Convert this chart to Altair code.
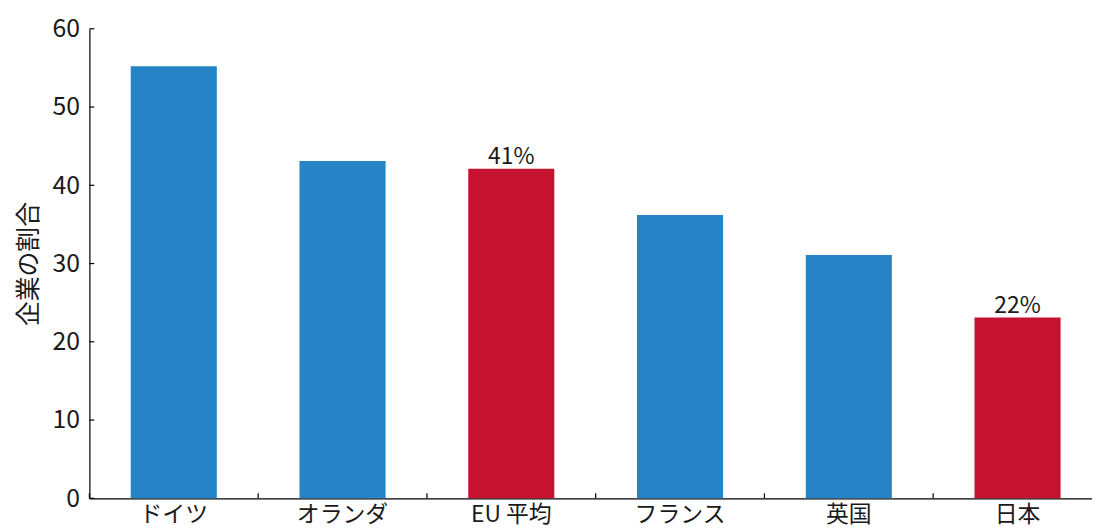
import altair as alt
import pandas as pd

categories = ["ドイツ", "オランダ", "EU 平均", "フランス", "英国", "日本"]
values = [55.2, 43.1, 42.1, 36.2, 31.1, 23.1]
groups = ["other", "other", "highlight", "other", "other", "highlight"]
labels = ["", "", "41%", "", "", "22%"]
y_ticks = [0, 10, 20, 30, 40, 50, 60]

df = pd.DataFrame({"cat": categories, "value": values, "group": groups, "label": labels})
tick_df = pd.DataFrame({"value": y_ticks})
xt_df = pd.DataFrame({"cat": categories})

FONT = "Noto Sans CJK JP"
BLUE = "#2683C6"
RED = "#C41230"

xscale = alt.Scale(domain=categories, range=[0, 1020], paddingInner=0.49, paddingOuter=0.245)
yscale = alt.Scale(domain=[0, 60], nice=False)

xaxis = alt.Axis(title=None, labelAngle=0, labelFontSize=23, labelColor="#1a1a1a",
                 ticks=False, grid=False, domainColor="#000", domainWidth=1.2, labelPadding=5,
                 labelFont=FONT)
yaxis = alt.Axis(values=y_ticks, title="企業の割合", ticks=False, grid=False,
                 labelFontSize=25, labelPadding=10, labelColor="#1a1a1a",
                 labelFont=FONT, titleFont=FONT, titleFontSize=25,
                 titleFontWeight="normal", titleColor="#1a1a1a", titlePadding=11,
                 domainColor="#000", domainWidth=1.2)

bars = alt.Chart(df).mark_bar().encode(
    x=alt.X("cat:N", sort=categories, scale=xscale, axis=xaxis),
    y=alt.Y("value:Q", scale=yscale, axis=yaxis),
    color=alt.Color("group:N", scale=alt.Scale(domain=["other", "highlight"], range=[BLUE, RED]),
                    legend=None),
)

text = alt.Chart(df).mark_text(baseline="alphabetic", dy=-5, fontSize=23, font=FONT,
                               color="#1a1a1a").encode(
    x=alt.X("cat:N", sort=categories, scale=xscale, axis=xaxis),
    y=alt.Y("value:Q", scale=yscale, axis=yaxis),
    text="label:N",
)

yt = alt.Chart(tick_df).mark_rule(color="#000", strokeWidth=1.2).encode(
    y=alt.Y("value:Q", scale=yscale, axis=yaxis),
    x=alt.value(0),
    x2=alt.value(5),
)

xt = alt.Chart(xt_df).mark_rule(color="#000", strokeWidth=1.2, xOffset=-85).encode(
    x=alt.X("cat:N", sort=categories, scale=xscale, bandPosition=0.5, axis=xaxis),
    y=alt.value(468),
    y2=alt.value(473),
)

chart = alt.layer(bars, text, yt, xt).properties(
    width=1010, height=473,
    autosize=alt.AutoSizeParams(type="none"),
    padding={"left": 82, "top": 19, "right": 0, "bottom": 32},
).configure(font=FONT).configure_view(stroke=None).configure_axis(grid=False)

chart.save("out.html", embed_options={"renderer": "svg", "actions": False})
